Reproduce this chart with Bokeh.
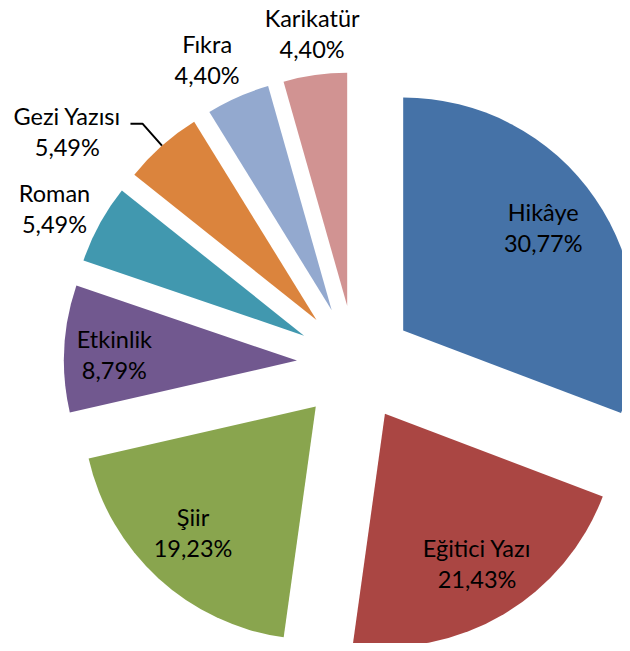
import math
from bokeh.plotting import figure
from bokeh.models import Range1d, ColumnDataSource
from bokeh.core.properties import value
from bokeh.embed import file_html
from bokeh.resources import INLINE

# ---- data ----
categories = ["Hikâye", "Eğitici Yazı", "Şiir", "Etkinlik", "Roman", "Gezi Yazısı", "Fıkra", "Karikatür"]
percentages = [30.77, 21.43, 19.23, 8.79, 5.49, 5.49, 4.40, 4.40]
colors = ["#4572A7", "#AA4643", "#89A54E", "#71588F", "#4198AF", "#DB843D", "#93A9CF", "#D19392"]

# ---- layout constants ----
W, H = 622, 643
CX, CY = 354.7, 279.9       # pie centre (data units = pixels)
R = 233.0                   # radius
EXPLODE = 58.3              # explosion distance
# label placement: distance from slice apex (fraction of R) and angle nudge (deg)
label_dist = [0.745, 0.753, 0.755, 0.784, 1.203, 1.34, 1.20, 1.18]
label_nudge = [1.6, 1.0, -1.7, 1.2, 1.6, 11.4, 2.7, -0.6]
leader_slices = ["Gezi Yazısı"]
FONT = "Lato"
FSIZE = "23.5px"
LINE_GAP = 15.5

total = sum(percentages)
xs, ys, starts, ends, mids = [], [], [], [], []
cum = 0.0
for v in percentages:
    a0 = 90.0 - 360.0 * cum / total
    cum += v
    a1 = 90.0 - 360.0 * cum / total
    m = math.radians((a0 + a1) / 2.0)
    xs.append(CX + EXPLODE * math.cos(m))
    ys.append(CY + EXPLODE * math.sin(m))
    starts.append(math.radians(a1))
    ends.append(math.radians(a0))
    mids.append((a0 + a1) / 2.0)

src = ColumnDataSource(dict(x=xs, y=ys, start=starts, end=ends, color=colors, name=categories))

p = figure(width=W, height=H, x_range=Range1d(0, W), y_range=Range1d(0, H),
           output_backend="svg", toolbar_location=None, min_border=0,
           x_axis_location=None, y_axis_location=None)
p.outline_line_color = None
p.grid.visible = False
p.background_fill_color = "white"
p.border_fill_color = "white"

p.wedge(x="x", y="y", radius=R, start_angle="start", end_angle="end",
        direction="anticlock", fill_color="color", line_color=None, source=src)

lx, ly, names, pcts = [], [], [], []
for i, v in enumerate(percentages):
    a = math.radians(mids[i] + label_nudge[i])
    d = label_dist[i] * R
    lx.append(xs[i] + d * math.cos(a))
    ly.append(ys[i] + d * math.sin(a))
    names.append(categories[i])
    pcts.append(f"{v:.2f}".replace(".", ",") + "%")

lsrc = ColumnDataSource(dict(x=lx, y=ly, name=names, pct=pcts))
p.text(x="x", y="y", text="name", source=lsrc, text_align="center", text_baseline="middle",
       y_offset=-LINE_GAP, text_font=value(FONT), text_font_size=FSIZE, text_color="black")
p.text(x="x", y="y", text="pct", source=lsrc, text_align="center", text_baseline="middle",
       y_offset=LINE_GAP, text_font=value(FONT), text_font_size=FSIZE, text_color="black")

# leader lines
for i, c in enumerate(categories):
    if c in leader_slices:
        m = math.radians(mids[i])
        px = xs[i] + R * math.cos(m)
        py = ys[i] + R * math.sin(m)
        ex = xs[i] + 1.126 * R * math.cos(m)
        ey = ys[i] + 1.126 * R * math.sin(m)
        p.line([px, ex, ex - 12], [py, ey, ey], line_color="black", line_width=2)

open("out.html", "w").write(file_html(p, INLINE))
